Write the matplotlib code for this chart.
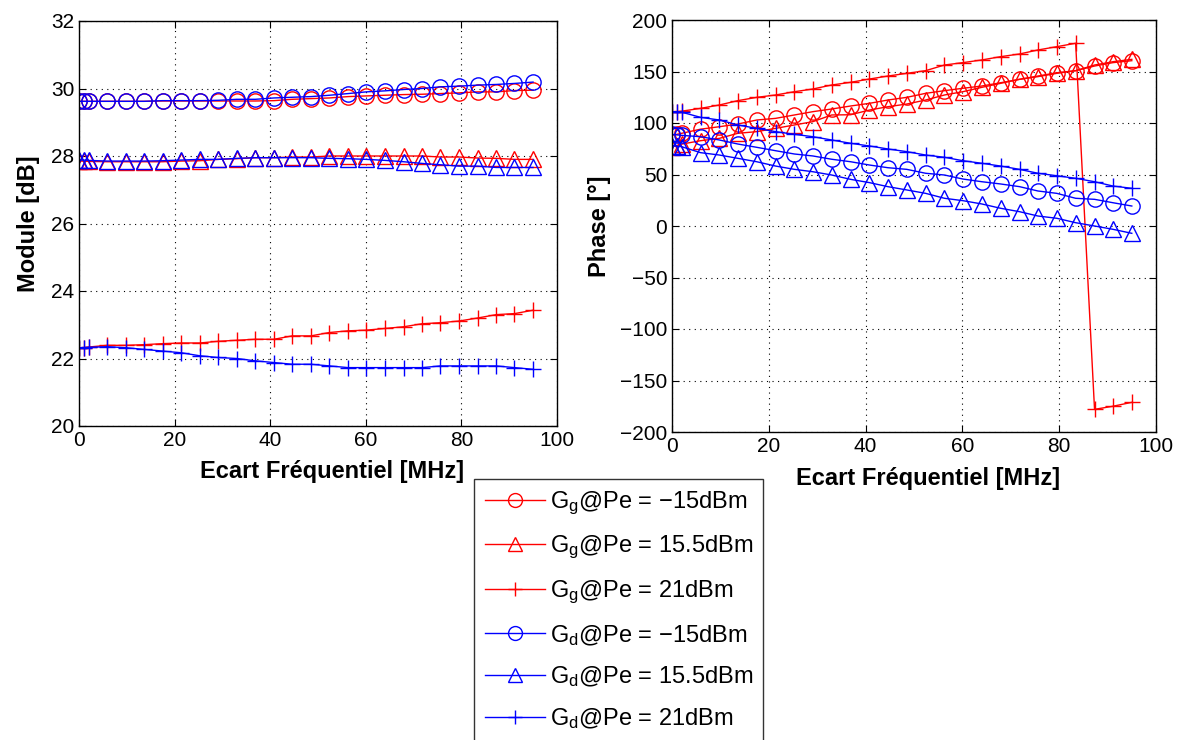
import matplotlib
matplotlib.use("Agg")
import matplotlib.pyplot as plt

plt.rcParams['font.family'] = ['Liberation Sans', 'DejaVu Sans']
plt.rcParams['mathtext.fontset'] = 'custom'
plt.rcParams['mathtext.rm'] = 'Liberation Sans'
plt.rcParams['mathtext.it'] = 'Liberation Sans'

# frequency offset [MHz]
freq = [0, 1, 2, 5.9, 9.8, 13.6, 17.5, 21.4, 25.3, 29.1, 33.0, 36.9, 40.8, 44.6,
        48.5, 52.4, 56.3, 60.1, 64.0, 67.9, 71.8, 75.6, 79.5, 83.4, 87.3, 91.1, 95.0]

# module [dB]
mod_gg_m15 = [29.62, 29.62, 29.62, 29.62, 29.62, 29.62, 29.63, 29.63, 29.63, 29.63, 29.63, 29.63, 29.64, 29.68,
              29.70, 29.72, 29.76, 29.78, 29.80, 29.82, 29.83, 29.85, 29.87, 29.90, 29.90, 29.94, 29.95]
mod_gg_155 = [27.85, 27.85, 27.84, 27.83, 27.83, 27.83, 27.83, 27.85, 27.86, 27.90, 27.92, 27.95, 27.95, 27.97,
              27.97, 28.00, 28.00, 28.00, 28.00, 28.00, 28.00, 27.97, 27.97, 27.94, 27.93, 27.90, 27.90]
mod_gg_21 = [22.32, 22.32, 22.34, 22.39, 22.39, 22.41, 22.44, 22.46, 22.46, 22.51, 22.54, 22.57, 22.57, 22.67,
             22.67, 22.77, 22.82, 22.84, 22.89, 22.94, 23.03, 23.06, 23.11, 23.20, 23.30, 23.33, 23.43]
mod_gd_m15 = [29.62, 29.62, 29.62, 29.62, 29.62, 29.62, 29.64, 29.64, 29.64, 29.65, 29.68, 29.68, 29.72, 29.74,
              29.76, 29.80, 29.85, 29.90, 29.93, 29.97, 30.00, 30.05, 30.07, 30.10, 30.12, 30.15, 30.19]
mod_gd_155 = [27.88, 27.88, 27.87, 27.85, 27.85, 27.85, 27.86, 27.88, 27.90, 27.90, 27.93, 27.95, 27.95, 27.95,
              27.95, 27.93, 27.92, 27.90, 27.87, 27.83, 27.78, 27.74, 27.70, 27.70, 27.66, 27.66, 27.66]
mod_gd_21 = [22.32, 22.32, 22.33, 22.35, 22.32, 22.27, 22.22, 22.17, 22.08, 22.03, 22.00, 21.93, 21.88, 21.83,
             21.83, 21.78, 21.73, 21.73, 21.73, 21.73, 21.73, 21.78, 21.78, 21.78, 21.78, 21.73, 21.68]

# phase [deg]
ph_gg_m15 = [88, 89, 90, 94, 96.4, 99, 102.9, 104.5, 107.8, 111, 113.6, 116.5, 119.1, 122.3,
             124.9, 128.8, 131.4, 133.7, 135.9, 139.1, 142.4, 145.6, 148.8, 150.8, 155.3, 158.6, 160.5]
ph_gg_155 = [77, 78, 79.5, 82.8, 85.1, 90, 91.6, 94.8, 98.1, 101.3, 107.8, 108, 112.6, 115.8,
             118.4, 122.3, 127.2, 130.4, 134.6, 138.5, 142.4, 145, 148.2, 150.8, 156.3, 159.5, 161.8]
ph_gg_21 = [111, 111, 111.5, 114.2, 117.5, 121.7, 124.9, 127.2, 130.4, 133, 136.9, 139.5, 142.7, 145.6,
            148.2, 150.8, 156.3, 158.6, 161.2, 164.4, 167, 170.9, 174.1, 177.4, -178, -175, -171.2]
ph_gd_m15 = [89, 88.5, 88, 86.7, 83.5, 79.6, 76.4, 73.1, 69.9, 68, 64.8, 62.4, 59.2, 56.6,
             55, 51.2, 49.5, 45.6, 43, 40.8, 38.2, 34, 31.7, 26.9, 25.9, 22.6, 19.4]
ph_gd_155 = [78, 77.5, 77, 71.2, 68.9, 65.7, 62.4, 58.2, 55, 52.7, 49.5, 45.3, 42.1, 38.2,
             35, 31.7, 26.9, 24.6, 21.4, 17.2, 13.9, 9.7, 7.5, 3.2, 0, -3.2, -7.1]
ph_gd_21 = [111, 111, 110.5, 105.5, 102.9, 98.1, 94.8, 91.6, 89, 86.7, 83.5, 80.3, 77.7, 74.8,
            72.2, 68.9, 66.7, 63.4, 60.9, 58.2, 55, 51.2, 48.8, 46.3, 43, 38.8, 36.6]

labels = [r'G$_{\mathrm{g}}$@Pe = −15dBm', r'G$_{\mathrm{g}}$@Pe = 15.5dBm', r'G$_{\mathrm{g}}$@Pe = 21dBm',
          r'G$_{\mathrm{d}}$@Pe = −15dBm', r'G$_{\mathrm{d}}$@Pe = 15.5dBm', r'G$_{\mathrm{d}}$@Pe = 21dBm']
colors = ['#ff0000', '#ff0000', '#ff0000', '#0000ff', '#0000ff', '#0000ff']
markers = ['o', '^', '+', 'o', '^', '+']
mod_series = [mod_gg_m15, mod_gg_155, mod_gg_21, mod_gd_m15, mod_gd_155, mod_gd_21]
ph_series = [ph_gg_m15, ph_gg_155, ph_gg_21, ph_gd_m15, ph_gd_155, ph_gd_21]

W, H = 1178, 740
fig = plt.figure(figsize=(W / 100, H / 100), dpi=100)
ax1 = fig.add_axes([79 / W, 1 - 426 / H, 478 / W, 405 / H])
ax2 = fig.add_axes([672 / W, 1 - 432 / H, 484 / W, 412 / H])


def style(ax):
    ax.grid(True, linestyle=(0, (1, 4)), color='black', linewidth=0.8)
    ax.tick_params(direction='in', top=True, right=True, labelsize=15, length=5, width=0.8)
    for s in ax.spines.values():
        s.set_linewidth(1.0)
    ax.set_xlim(0, 100)
    ax.set_xticks([0, 20, 40, 60, 80, 100])
    ax.set_xlabel('Ecart Fréquentiel [MHz]', fontsize=17, fontweight='bold', labelpad=9)
    ax.xaxis.set_label_coords(0.53, -0.085)


handles = []
for ys, c, m, lab in zip(mod_series, colors, markers, labels):
    h, = ax1.plot(freq, ys, color=c, marker=m, markersize=11, markerfacecolor='none',
                  markeredgewidth=1.0, linewidth=1.0, label=lab)
    handles.append(h)
for ys, c, m in zip(ph_series, colors, markers):
    ax2.plot(freq, ys, color=c, marker=m, markersize=11, markerfacecolor='none',
             markeredgewidth=1.0, linewidth=1.0)

style(ax1)
ax1.set_ylim(20, 32)
ax1.set_yticks([20, 22, 24, 26, 28, 30, 32])
ax1.set_ylabel('Module [dB]', fontsize=17, fontweight='bold', labelpad=8)

style(ax2)
ax2.set_ylim(-200, 200)
ax2.set_yticks(range(-200, 201, 50))
ax2.set_ylabel('Phase [°]', fontsize=17, fontweight='bold', labelpad=6)

leg = fig.legend(handles=handles, loc='upper left', bbox_to_anchor=(474 / W, 1 - 479 / H),
                 fontsize=17, frameon=True, fancybox=False, edgecolor='black',
                 handlelength=2.55, handletextpad=0.2, labelspacing=0.72, borderpad=0.45,
                 borderaxespad=0)
leg.get_frame().set_linewidth(1.0)
for h in leg.legend_handles:
    h.set_markersize(10)

fig.savefig('out.png', dpi=100)
